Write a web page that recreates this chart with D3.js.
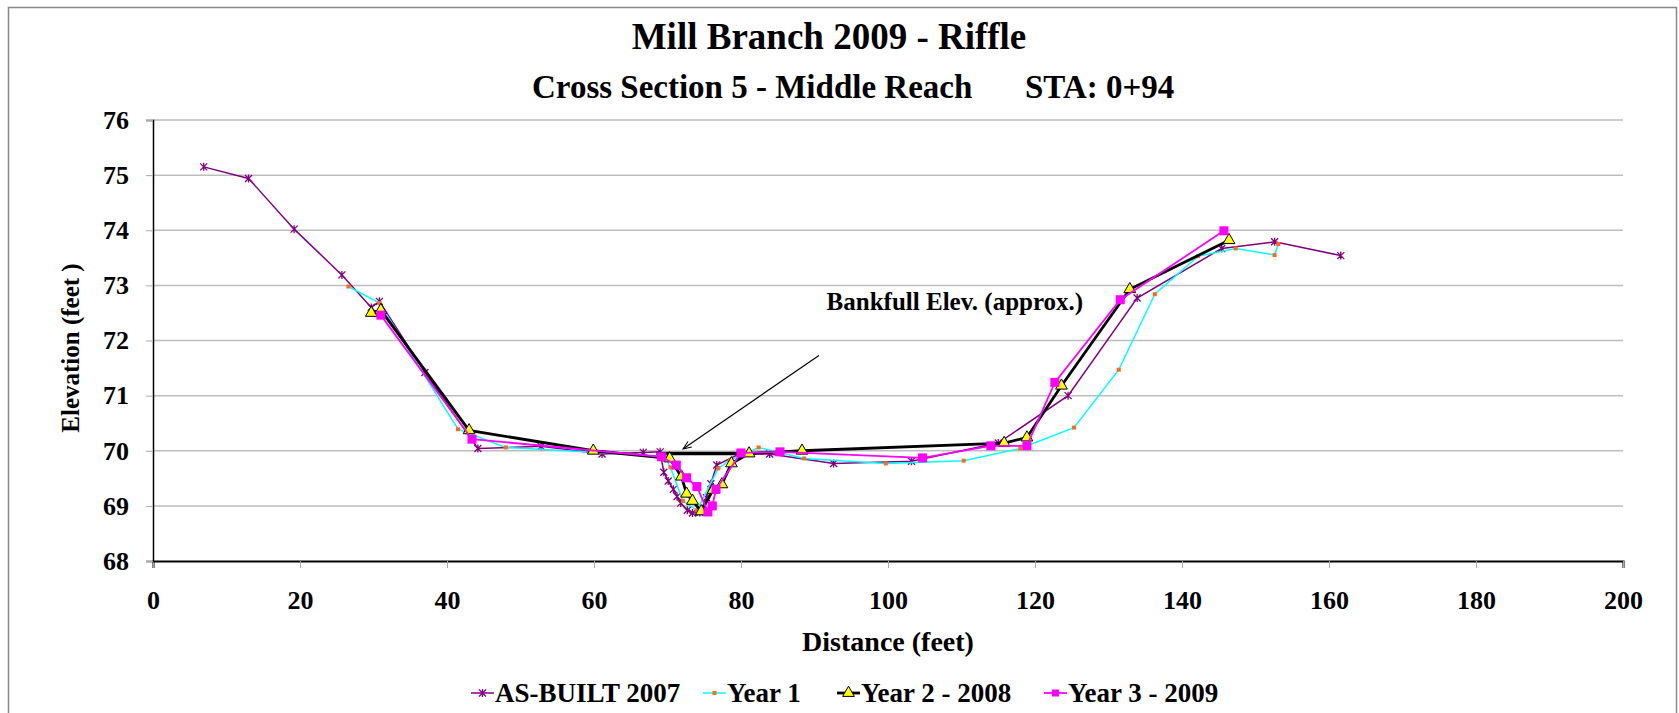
<!DOCTYPE html>
<html>
<head>
<meta charset="utf-8">
<script src="https://cdn.jsdelivr.net/npm/d3@7"></script>
<style>
  body { margin: 0; background: #fff; }
  text { font-family: "Liberation Serif", "Times New Roman", serif; font-weight: bold; fill: #000; }
</style>
</head>
<body>
<div id="chart"></div>
<script>
// Data: [distance (ft), elevation (ft)]
const asBuilt2007 = [
  [6.9, 75.15], [13.0, 74.94], [19.2, 74.02], [25.7, 73.19], [29.7, 72.60], [30.8, 72.71],
  [37.0, 71.42], [44.2, 70.04], [52.8, 70.08], [61.1, 69.94], [66.7, 69.97], [69.0, 69.98],
  [69.5, 69.61], [70.1, 69.45], [70.8, 69.30], [71.3, 69.17], [71.8, 69.05], [72.7, 68.92],
  [73.4, 68.87], [74.4, 68.88], [75.3, 69.15], [75.9, 69.40], [76.7, 69.74], [79.9, 69.95],
  [83.9, 69.94], [92.6, 69.77], [103.2, 69.81], [115.0, 70.14], [124.5, 71.0], [133.9, 72.77],
  [145.4, 73.67], [152.6, 73.79], [161.6, 73.54]
];
const year1 = [
  [26.6, 72.98], [30.8, 72.68], [41.5, 70.39], [48.0, 70.06], [69.6, 69.90], [70.4, 69.70],
  [72.1, 69.09], [74.0, 68.92], [76.9, 69.68], [78.5, 69.83], [82.4, 70.06], [88.6, 69.86],
  [99.7, 69.77], [110.3, 69.82], [118.0, 70.04], [125.3, 70.42], [131.4, 71.47], [136.3, 72.84],
  [142.2, 73.53], [147.3, 73.67], [152.6, 73.55], [153.1, 73.75]
];
const year2 = [
  [29.7, 72.50], [31.0, 72.55], [43.0, 70.37], [59.9, 70.0], [70.3, 69.86], [71.9, 69.53],
  [72.6, 69.22], [73.4, 69.09], [74.6, 68.90], [76.2, 69.29], [77.4, 69.39], [78.7, 69.77],
  [81.1, 69.95], [88.3, 70.0], [115.8, 70.14], [118.9, 70.24], [123.6, 71.18], [132.9, 72.93],
  [146.4, 73.82]
];
const year3 = [
  [31.0, 72.46], [43.4, 70.21], [69.2, 69.89], [71.2, 69.74], [72.6, 69.51], [74.0, 69.35],
  [75.5, 68.89], [76.1, 69.0], [76.6, 69.30], [80.0, 69.96], [85.3, 69.98], [104.7, 69.87],
  [114.0, 70.09], [118.9, 70.09], [122.7, 71.24], [131.6, 72.74], [145.7, 73.99]
];
const bankfull = [[68.5, 69.95], [81.1, 69.95]];
const bankfullArrow = [[90.6, 71.73], [72.2, 70.04]];
const bankfullLabel = { x: 109.1, y: 72.55, text: 'Bankfull Elev. (approx.)' };

const xTicks = [0, 20, 40, 60, 80, 100, 120, 140, 160, 180, 200];
const yTicks = [68, 69, 70, 71, 72, 73, 74, 75, 76];
const seriesNames = ['AS-BUILT 2007', 'Year 1', 'Year 2 - 2008', 'Year 3 - 2009'];

// Chart dimensions
const W = 1679, H = 713;
const margin = { top: 120, left: 153, right: 56, bot: 152 };
const width = W - margin.left - margin.right;
const height = H - margin.top - margin.bot;

const xScale = d3.scaleLinear().domain([0, 200]).range([0, width]);
const yScale = d3.scaleLinear().domain([68, 76]).range([height, 0]);

const svg = d3.select('#chart').append('svg')
  .attr('width', W)
  .attr('height', H);

// outer frame
svg.append('rect')
  .attr('x', 8.5).attr('y', 7.5)
  .attr('width', 1668).attr('height', 720)
  .attr('fill', 'none')
  .attr('stroke', '#888')
  .attr('stroke-width', 1.5);

// titles
svg.append('text')
  .attr('x', 829).attr('y', 49)
  .attr('text-anchor', 'middle')
  .style('font-size', '37px')
  .text('Mill Branch 2009 - Riffle');

svg.append('text')
  .attr('x', 532).attr('y', 98)
  .style('font-size', '33px')
  .text('Cross Section 5 - Middle Reach');

svg.append('text')
  .attr('x', 1025).attr('y', 98)
  .style('font-size', '33px')
  .text('STA: 0+94');

const g = svg.append('g')
  .attr('transform', `translate(${margin.left}, ${margin.top})`);

// gridlines
g.append('g')
  .selectAll('line')
  .data(yTicks.filter(d => d > 68))
  .join('line')
  .attr('x1', 0).attr('x2', width)
  .attr('y1', d => yScale(d)).attr('y2', d => yScale(d))
  .attr('stroke', '#bdbdbd')
  .attr('stroke-width', 1.5);

// axes
const xAxis = d3.axisBottom(xScale).tickValues(xTicks).tickSize(7).tickPadding(23);
const yAxis = d3.axisLeft(yScale).tickValues(yTicks).tickSize(7).tickPadding(17);

const gx = g.append('g')
  .attr('transform', `translate(0, ${height})`)
  .call(xAxis);
gx.select('.domain').attr('stroke', '#000').attr('stroke-width', 2);
gx.selectAll('.tick line').attr('stroke', '#aaa');
gx.selectAll('.tick text')
  .style('font-size', '26px')
  .style('font-family', '"Liberation Serif", serif')
  .style('font-weight', 'bold');

const gy = g.append('g').call(yAxis);
gy.select('.domain').attr('stroke', '#000').attr('stroke-width', 1.5);
gy.selectAll('.tick line').attr('stroke', '#aaa');
gy.selectAll('.tick text')
  .style('font-size', '26px')
  .style('font-family', '"Liberation Serif", serif')
  .style('font-weight', 'bold');

// axis titles
svg.append('text')
  .attr('transform', 'translate(79, 348) rotate(-90)')
  .attr('text-anchor', 'middle')
  .style('font-size', '25px')
  .text('Elevation (feet )');

svg.append('text')
  .attr('x', margin.left + xScale(100)).attr('y', 651)
  .attr('text-anchor', 'middle')
  .style('font-size', '28px')
  .text('Distance (feet)');

// line generator
const line = d3.line()
  .x(d => xScale(d[0]))
  .y(d => yScale(d[1]));

// marker shapes
const starPath = 'M-3.5,-3.5L3.5,3.5M-3.5,3.5L3.5,-3.5M0,-4L0,4';
const triPath = d3.symbol().type(d3.symbolTriangle).size(60)();

const series = [
  { name: seriesNames[0], data: asBuilt2007, color: '#800080', width: 1.5,
    marker: { path: starPath, fill: 'none', stroke: '#800080', sw: 1.3 } },
  { name: seriesNames[1], data: year1, color: '#00ffff', width: 1.5,
    marker: { rect: 4, fill: '#ff6a1a', stroke: 'none' } },
  { name: seriesNames[2], data: year2, color: '#000', width: 2.8,
    marker: { path: triPath, fill: '#ffff00', stroke: '#000', sw: 1 } },
  { name: seriesNames[3], data: year3, color: '#ff00ff', width: 1.8,
    marker: { rect: 9, fill: '#ff00ff', stroke: 'none' } }
];

function drawMarker(sel, m) {
  if (m.rect) {
    sel.append('rect')
      .attr('x', -m.rect / 2).attr('y', -m.rect / 2)
      .attr('width', m.rect).attr('height', m.rect)
      .attr('fill', m.fill);
  } else {
    sel.append('path')
      .attr('d', m.path)
      .attr('fill', m.fill)
      .attr('stroke', m.stroke)
      .attr('stroke-width', m.sw);
  }
}

// bankfull marker line
g.append('path')
  .datum(bankfull)
  .attr('d', line)
  .attr('transform', 'translate(0,-2)')
  .attr('stroke', '#d9d9d9')
  .attr('stroke-width', 3)
  .attr('fill', 'none');
g.append('path')
  .datum(bankfull)
  .attr('d', line)
  .attr('stroke', '#000')
  .attr('stroke-width', 3.5)
  .attr('fill', 'none');

series.forEach(s => {
  g.append('path')
    .datum(s.data)
    .attr('d', line)
    .attr('stroke', s.color)
    .attr('stroke-width', s.width)
    .attr('fill', 'none');
  g.append('g')
    .selectAll('g')
    .data(s.data)
    .join('g')
    .attr('transform', d => `translate(${xScale(d[0])}, ${yScale(d[1])})`)
    .each(function() { drawMarker(d3.select(this), s.marker); });
});

// annotation
svg.append('defs').append('marker')
  .attr('id', 'arrow')
  .attr('viewBox', '0 0 10 10')
  .attr('refX', 9).attr('refY', 5)
  .attr('markerWidth', 9).attr('markerHeight', 7)
  .attr('orient', 'auto')
  .append('path')
  .attr('d', 'M0,1L10,5L0,9')
  .attr('fill', 'none')
  .attr('stroke', '#000')
  .attr('stroke-width', 1.2);

g.append('line')
  .attr('x1', xScale(bankfullArrow[0][0])).attr('y1', yScale(bankfullArrow[0][1]))
  .attr('x2', xScale(bankfullArrow[1][0])).attr('y2', yScale(bankfullArrow[1][1]))
  .attr('stroke', '#000')
  .attr('stroke-width', 1.2)
  .attr('marker-end', 'url(#arrow)');

g.append('text')
  .attr('x', xScale(bankfullLabel.x)).attr('y', yScale(bankfullLabel.y))
  .attr('text-anchor', 'middle')
  .style('font-size', '25px')
  .text(bankfullLabel.text);

// legend
const legendX = [471, 703, 837, 1044];
const legend = svg.append('g').attr('class', 'legend');
series.forEach((s, i) => {
  const lg = legend.append('g').attr('transform', `translate(${legendX[i]}, 693)`);
  lg.append('line')
    .attr('x1', 0).attr('x2', 23)
    .attr('stroke', s.color)
    .attr('stroke-width', s.width);
  const mk = lg.append('g').attr('transform', 'translate(11.5, 0)');
  drawMarker(mk, Object.assign({}, s.marker, s.marker.rect ? { rect: Math.min(s.marker.rect, 7) } : {}));
  lg.append('text')
    .attr('x', 24).attr('y', 0)
    .attr('dy', '0.35em')
    .style('font-size', '27px')
    .text(s.name);
});
</script>
</body>
</html>
